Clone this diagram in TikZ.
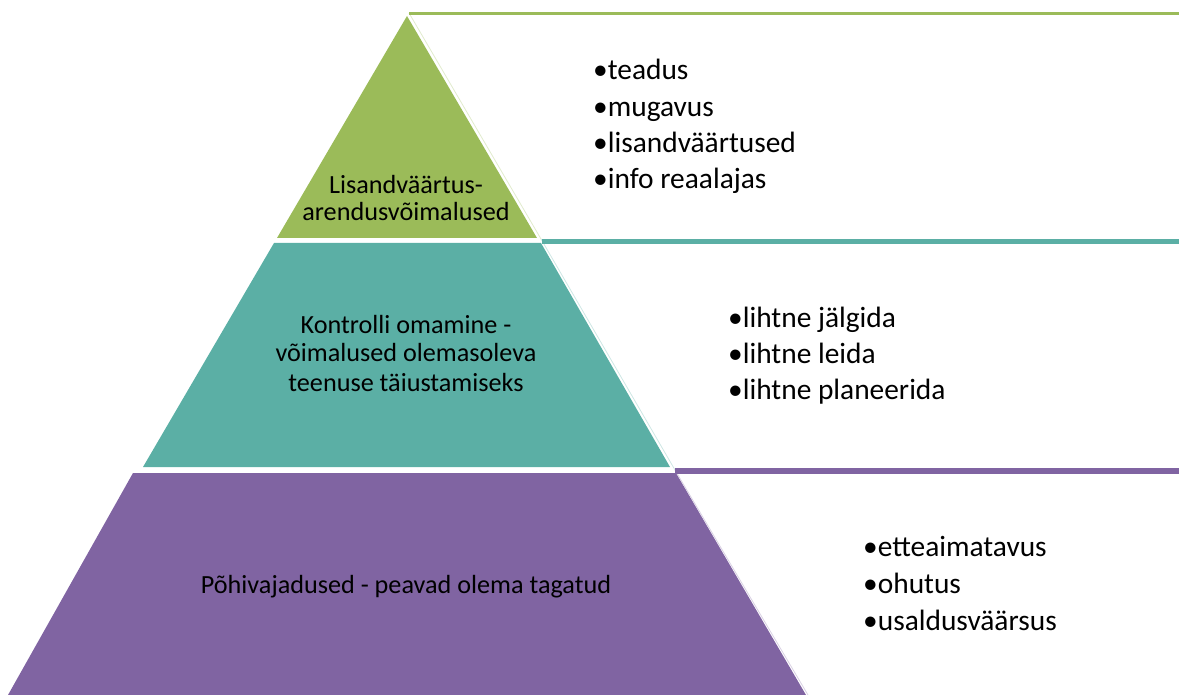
\documentclass[tikz,border=0pt]{standalone}
\usepackage{fontspec}
\setmainfont{Carlito}
\definecolor{lvlgreen}{HTML}{9BBB59}
\definecolor{lvlteal}{HTML}{5BAFA5}
\definecolor{lvlpurple}{HTML}{8064A2}
\begin{document}
\begin{tikzpicture}[x=1pt,y=-1pt]
\tikzstyle{every node}+=[inner sep=0pt]
\tikzstyle{lvltext}=[font=\fontsize{26.2}{28}\selectfont, align=center, anchor=base]
\tikzstyle{itemtext}=[font=\fontsize{29.4}{31}\selectfont, anchor=base west]
\useasboundingbox (0,0) rectangle (1179,695);
\fill [lvlgreen] (407,16) -- (537,238) -- (277,238) -- cycle;
\fill [lvlteal] (274,243) -- (541,243) -- (670,467) -- (143,467) -- cycle;
\fill [lvlpurple] (133,473) -- (676,473) -- (806,695) -- (8,695) -- cycle;
\draw [lvlgreen!30, line width=0.8pt] (409,13) -- (541,239);
\draw [lvlteal!30, line width=0.8pt] (541,239) -- (675,470);
\draw [lvlpurple!30, line width=0.8pt] (675,470) -- (808,695);
\draw [lvlgreen, line width=2.7pt] (409,13.4) -- (1179,13.4);
\draw [lvlteal, line width=5pt] (542,241.6) -- (1179,241.6);
\draw [lvlpurple, line width=5.4pt] (675,470.9) -- (1179,470.9);
\node [lvltext] (topa) at (406,194) {Lisandväärtus-};
\node [lvltext] (topb) at (406,221) {arendusvõimalused};
\node [lvltext] (mida) at (406,334) {Kontrolli omamine -};
\node [lvltext] (midb) at (406,362) {võimalused olemasoleva};
\node [lvltext] (midc) at (406,391) {teenuse täiustamiseks};
\node [lvltext] (bota) at (406,593) {Põhivajadused - peavad olema tagatud};
\node [itemtext] (itema) at (593,80) {•teadus};
\node [itemtext] (itemb) at (593,117) {•mugavus};
\node [itemtext] (itemc) at (593,153) {•lisandväärtused};
\node [itemtext] (itemd) at (593,189) {•info reaalajas};
\node [itemtext] (iteme) at (728,327) {•lihtne jälgida};
\node [itemtext] (itemf) at (728,363) {•lihtne leida};
\node [itemtext] (itemg) at (728,399) {•lihtne planeerida};
\node [itemtext] (itemh) at (863,556) {•etteaimatavus};
\node [itemtext] (itemi) at (863,593) {•ohutus};
\node [itemtext] (itemj) at (863,630) {•usaldusväärsus};
\end{tikzpicture}
\end{document}
